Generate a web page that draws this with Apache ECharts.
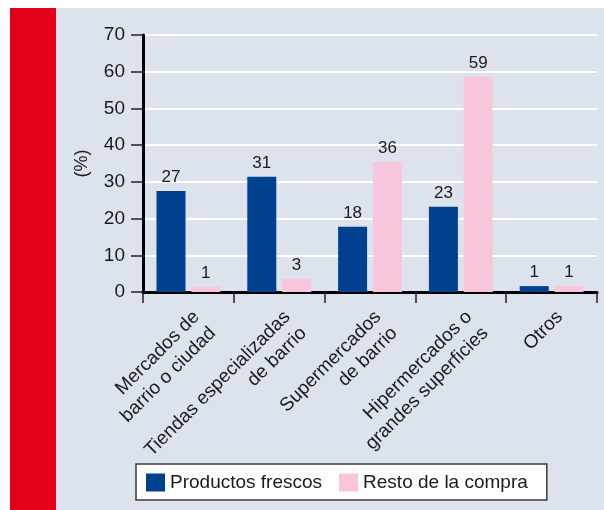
<!DOCTYPE html>
<html>
<head>
<meta charset="utf-8">
<script src="https://cdn.jsdelivr.net/npm/echarts@6/dist/echarts.min.js"></script>
<style>
html,body{margin:0;padding:0;background:#ffffff;}
#chart{width:604px;height:510px;}
</style>
</head>
<body>
<div id="chart"></div>
<script>
var categories = ['Mercados de\nbarrio o ciudad', 'Tiendas especializadas\nde barrio', 'Supermercados\nde barrio', 'Hipermercados o\ngrandes superficies', 'Otros'];
var frescos = [27.5, 31.4, 17.8, 23.2, 1.6];
var resto = [1.4, 3.5, 35.4, 58.6, 1.6];
var frescosLabels = ['27', '31', '18', '23', '1'];
var restoLabels = ['1', '3', '36', '59', '1'];
var seriesNames = ['Productos frescos', 'Resto de la compra'];
var yTicks = [0, 10, 20, 30, 40, 50, 60, 70];

var FONT = '"Liberation Sans", Arial, sans-serif';
var chart = echarts.init(document.getElementById('chart'), null, {renderer: 'canvas'});
var option = {
  animation: false,
  backgroundColor: '#ffffff',
  graphic: [
    {type: 'rect', z: -10, shape: {x: 56, y: 8, width: 548, height: 502}, style: {fill: '#dde3ec'}},
    {type: 'rect', z: -10, shape: {x: 10, y: 8, width: 46, height: 502}, style: {fill: '#e2001a'}}
  ],
  grid: {left: 143, right: 7, top: 35, bottom: 218, containLabel: false},
  legend: {
    data: seriesNames,
    left: 136, top: 464,
    orient: 'horizontal',
    itemWidth: 19, itemHeight: 18, itemGap: 17,
    padding: [9, 19, 8, 10],
    backgroundColor: '#ffffff',
    borderColor: '#3a3a3a', borderWidth: 1.5,
    icon: 'rect',
    textStyle: {fontFamily: FONT, fontSize: 19, color: '#1a1a1a'}
  },
  xAxis: {
    type: 'category',
    data: categories,
    boundaryGap: true,
    axisLine: {lineStyle: {color: '#000000', width: 3}},
    axisTick: {show: true, length: 11, lineStyle: {color: '#222222', width: 1.5}},
    axisLabel: {
      interval: 0, rotate: 45, margin: 14,
      verticalAlign: 'top',
      fontFamily: FONT, fontSize: 19, lineHeight: 23, color: '#1a1a1a'
    },
    splitLine: {show: false}
  },
  yAxis: {
    type: 'value',
    min: yTicks[0], max: yTicks[yTicks.length - 1], interval: 10,
    name: '(%)', nameLocation: 'middle', nameRotate: 90, nameGap: 52,
    nameTextStyle: {fontFamily: FONT, fontSize: 18, color: '#1a1a1a'},
    axisLine: {show: true, lineStyle: {color: '#000000', width: 3}},
    axisTick: {show: true, length: 12, lineStyle: {color: '#222222', width: 1.5}},
    axisLabel: {margin: 18, fontFamily: FONT, fontSize: 19, color: '#1a1a1a'},
    splitLine: {show: true, lineStyle: {color: '#ffffff', width: 2}}
  },
  series: [
    {
      name: seriesNames[0], type: 'bar', data: frescos,
      barWidth: 29, barGap: '20%',
      itemStyle: {color: '#00418f'},
      label: {show: true, position: 'top', distance: 5, fontFamily: FONT, fontSize: 17, color: '#1a1a1a',
        formatter: function (p) { return frescosLabels[p.dataIndex]; }}
    },
    {
      name: seriesNames[1], type: 'bar', data: resto,
      barWidth: 29, barGap: '20%',
      itemStyle: {color: '#f8c6dc'},
      label: {show: true, position: 'top', distance: 5, fontFamily: FONT, fontSize: 17, color: '#1a1a1a',
        formatter: function (p) { return restoLabels[p.dataIndex]; }}
    }
  ]
};
chart.setOption(option);
</script>
</body>
</html>
